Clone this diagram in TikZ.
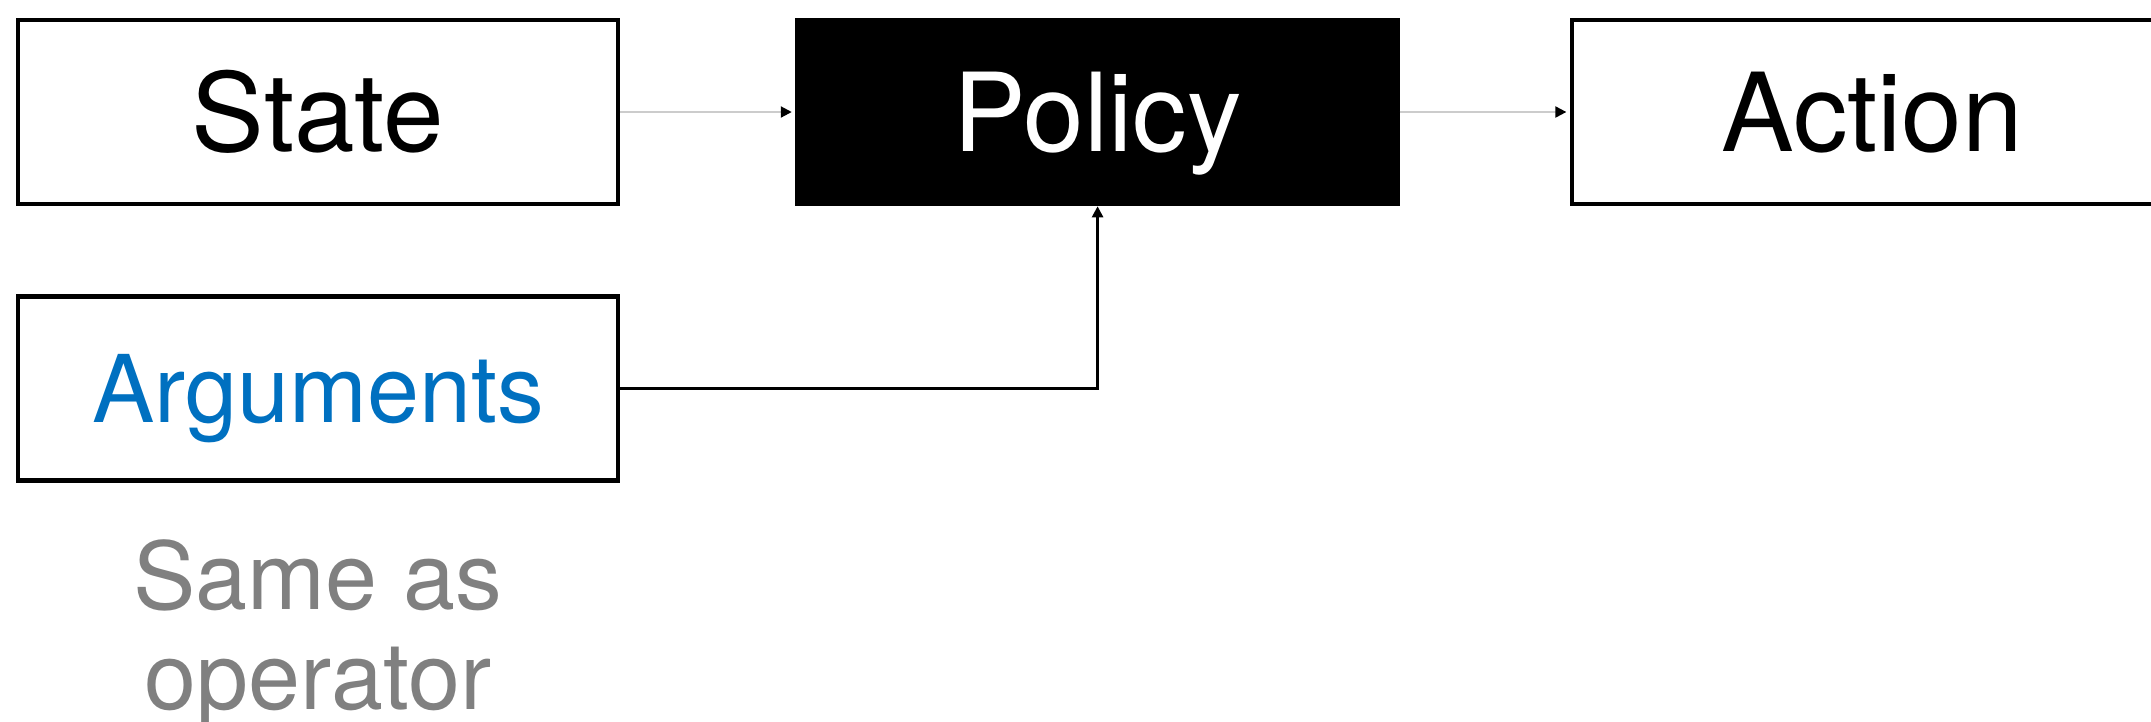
\documentclass[tikz,border=0pt]{standalone}
\usepackage{fontspec}
\setmainfont{TeX Gyre Heros}
\usetikzlibrary{positioning,arrows.meta}
\definecolor{argblue}{HTML}{0070C0}

\begin{document}
\begin{tikzpicture}[node distance=1.75cm,
		box/.style={draw,line width=1.3pt,minimum width=6cm,minimum height=1.84cm,inner sep=0pt,text depth=0pt},
		big/.style={font=\fontsize{31}{37}\selectfont,text height=22.3pt},
		small/.style={font=\fontsize{26.6}{28.5}\selectfont,text height=19.2pt},
		tip/.style={-{Triangle[black,length=1.1mm,width=1.1mm]}}]
			\clip (0,0) rectangle (21.51,-7.21);
			\node (state) [box,big] at (3.18,-1.12) {State};
			\node (policy) [right=of state,box,big,fill=black,text=white] {Policy};
			\node (action) [right=1.7cm of policy,box,big] {Action};
			\node (args) [below=0.88cm of state,box,small,text=argblue] {Arguments};
			\node (note) [below=0.56cm of args,font=\fontsize{26.6}{28.5}\selectfont,text=black!50,align=center,inner sep=0pt] {Same as\\operator};
			\draw [black!20,line width=0.6pt,tip,shorten >=1pt] (state) -- (policy);
			\draw [black!20,line width=0.6pt,tip,shorten >=1pt] (policy) -- (action);
			\draw [line width=0.7pt,tip] (args) -| (policy);
		\end{tikzpicture}
\end{document}
